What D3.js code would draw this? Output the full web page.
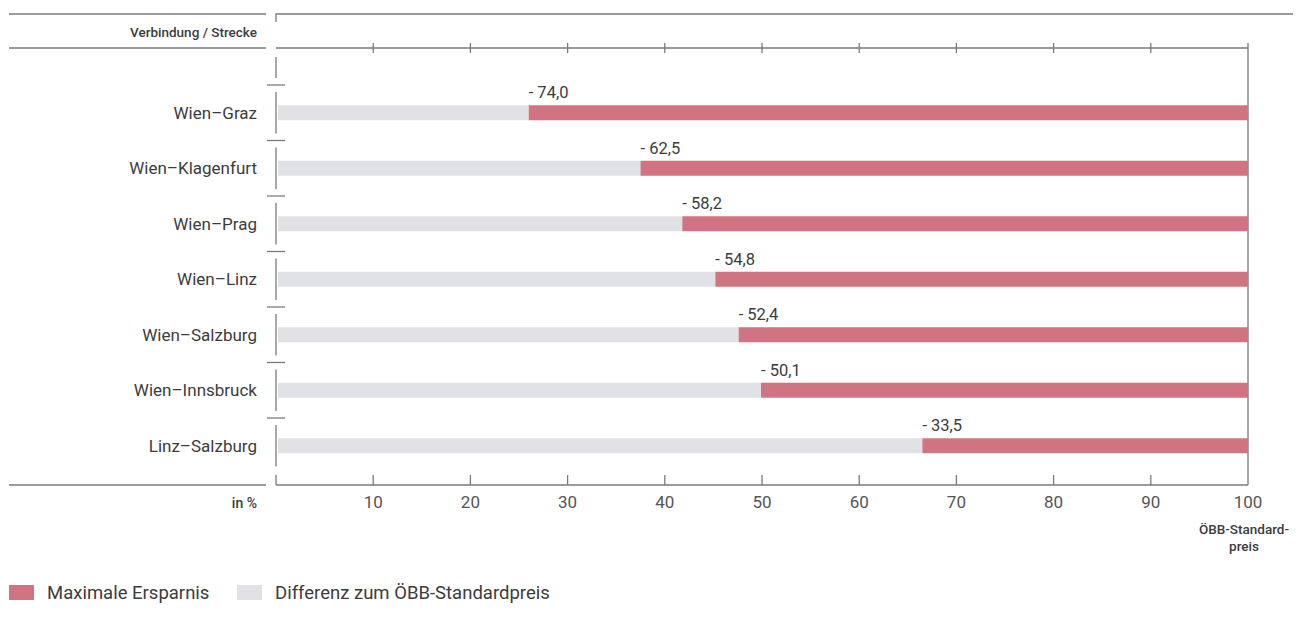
<!DOCTYPE html>
<html>
<head>
<meta charset="utf-8">
<script src="https://cdn.jsdelivr.net/npm/d3@7"></script>
<style>
  html, body { margin: 0; padding: 0; background: #fff; }
  svg { display: block; font-family: Roboto, "Noto Sans", sans-serif; }
</style>
</head>
<body>
<svg id="chart" width="1298" height="633"></svg>
<script>
// Routes and their maximum saving against the ÖBB standard fare (in %)
const routes = ["Wien–Graz", "Wien–Klagenfurt", "Wien–Prag", "Wien–Linz", "Wien–Salzburg", "Wien–Innsbruck", "Linz–Salzburg"];
const savings = [74.0, 62.5, 58.2, 54.8, 52.4, 50.1, 33.5];
const tickValues = [10, 20, 30, 40, 50, 60, 70, 80, 90, 100];
const legendLabels = ["Maximale Ersparnis", "Differenz zum ÖBB-Standardpreis"];

const red = "#cf7480";
const grey = "#e1e2e6";
const lineCol = "#7a7a7a";
const textCol = "#3c3c3c";

const svg = d3.select("#chart");

const x = d3.scaleLinear().domain([0, 100]).range([276, 1248]);
const y = d3.scaleBand().domain(routes).range([85, 473.5]);
const barH = 15;

const fmt = v => "- " + d3.format(".1f")(v).replace(".", ",");

// Frame lines: top rule, header rule, bottom axis rule
const g = svg.append("g").attr("stroke", lineCol).attr("stroke-width", 1.3).attr("fill", "none");
g.append("line").attr("x1", 9).attr("x2", 266).attr("y1", 14).attr("y2", 14);
g.append("path").attr("d", `M${x(0)},22V14H1293`);
g.append("line").attr("x1", 9).attr("x2", 266).attr("y1", 48).attr("y2", 48);
g.append("line").attr("x1", x(0)).attr("x2", x(100)).attr("y1", 48).attr("y2", 48);
g.append("line").attr("x1", 9).attr("x2", 266).attr("y1", 485).attr("y2", 485);
g.append("line").attr("x1", x(0)).attr("x2", x(100)).attr("y1", 485).attr("y2", 485);
// 100 % reference line
g.append("line").attr("x1", x(100)).attr("x2", x(100)).attr("y1", 43).attr("y2", 485);

// Ticks on header and bottom rules
g.selectAll(".tt").data(tickValues.slice(0, -1)).join("line")
  .attr("x1", d => x(d)).attr("x2", d => x(d)).attr("y1", 43).attr("y2", 53);
g.selectAll(".bt").data(tickValues.slice(0, -1)).join("line")
  .attr("x1", d => x(d)).attr("x2", d => x(d)).attr("y1", 475).attr("y2", 485);

// Broken category axis with separators between routes
const gap = 7;
g.append("line").attr("x1", x(0)).attr("x2", x(0)).attr("y1", 57).attr("y2", y.range()[0] - gap);
routes.forEach(r => {
  const top = y(r), bot = y(r) + y.bandwidth();
  g.append("line").attr("x1", x(0)).attr("x2", x(0)).attr("y1", top + gap).attr("y2", bot - gap);
  g.append("line").attr("x1", x(0) - 9).attr("x2", x(0) + 9).attr("y1", top).attr("y2", top);
});
g.append("line").attr("x1", x(0)).attr("x2", x(0)).attr("y1", y.range()[1] + 1.5).attr("y2", 485);

// Bars: grey remainder then red saving up to 100
const rows = svg.append("g").selectAll("g").data(routes).join("g");
rows.append("rect")
  .attr("x", x(0) + 2)
  .attr("y", d => y(d) + y.bandwidth() / 2 - barH / 2)
  .attr("width", (d, i) => x(100 - savings[i]) - x(0) - 2)
  .attr("height", barH)
  .attr("fill", grey);
rows.append("rect")
  .attr("x", (d, i) => x(100 - savings[i]))
  .attr("y", d => y(d) + y.bandwidth() / 2 - barH / 2)
  .attr("width", (d, i) => x(100) - x(100 - savings[i]))
  .attr("height", barH)
  .attr("fill", red);
rows.append("text")
  .attr("x", (d, i) => x(100 - savings[i]))
  .attr("y", d => y(d) + y.bandwidth() / 2 - barH / 2 - 7)
  .attr("font-size", 16.5)
  .attr("fill", textCol)
  .text((d, i) => fmt(savings[i]));

// Route labels
rows.append("text")
  .attr("x", 257)
  .attr("y", d => y(d) + y.bandwidth() / 2)
  .attr("dy", "0.35em")
  .attr("text-anchor", "end")
  .attr("font-size", 17)
  .attr("fill", textCol)
  .text(d => d);

// Header and unit labels
svg.append("text").attr("x", 257).attr("y", 32).attr("dy", "0.35em")
  .attr("text-anchor", "end").attr("font-size", 13.5).attr("font-weight", 500)
  .attr("fill", textCol).text("Verbindung / Strecke");
svg.append("text").attr("x", 257).attr("y", 503).attr("dy", "0.35em")
  .attr("text-anchor", "end").attr("font-size", 14).attr("font-weight", 500)
  .attr("fill", textCol).text("in %");

// Tick labels
svg.append("g").selectAll("text").data(tickValues).join("text")
  .attr("x", d => x(d)).attr("y", 502).attr("dy", "0.35em")
  .attr("text-anchor", "middle").attr("font-size", 17)
  .attr("fill", "#555").text(d => d);

// Note under the 100 mark
const note = svg.append("text").attr("x", 1244).attr("text-anchor", "middle")
  .attr("font-size", 13.5).attr("font-weight", 500).attr("fill", textCol);
note.append("tspan").attr("x", 1244).attr("y", 534).text("ÖBB-Standard-");
note.append("tspan").attr("x", 1244).attr("y", 551).text("preis");

// Legend
const legend = svg.append("g");
const lx = [9, 237];
const lc = [red, grey];
legendLabels.forEach((t, i) => {
  legend.append("rect").attr("x", lx[i]).attr("y", 585).attr("width", 25).attr("height", 15).attr("fill", lc[i]);
  legend.append("text").attr("x", lx[i] + 38).attr("y", 593).attr("dy", "0.35em")
    .attr("font-size", 18.5).attr("fill", textCol).text(t);
});
</script>
</body>
</html>
